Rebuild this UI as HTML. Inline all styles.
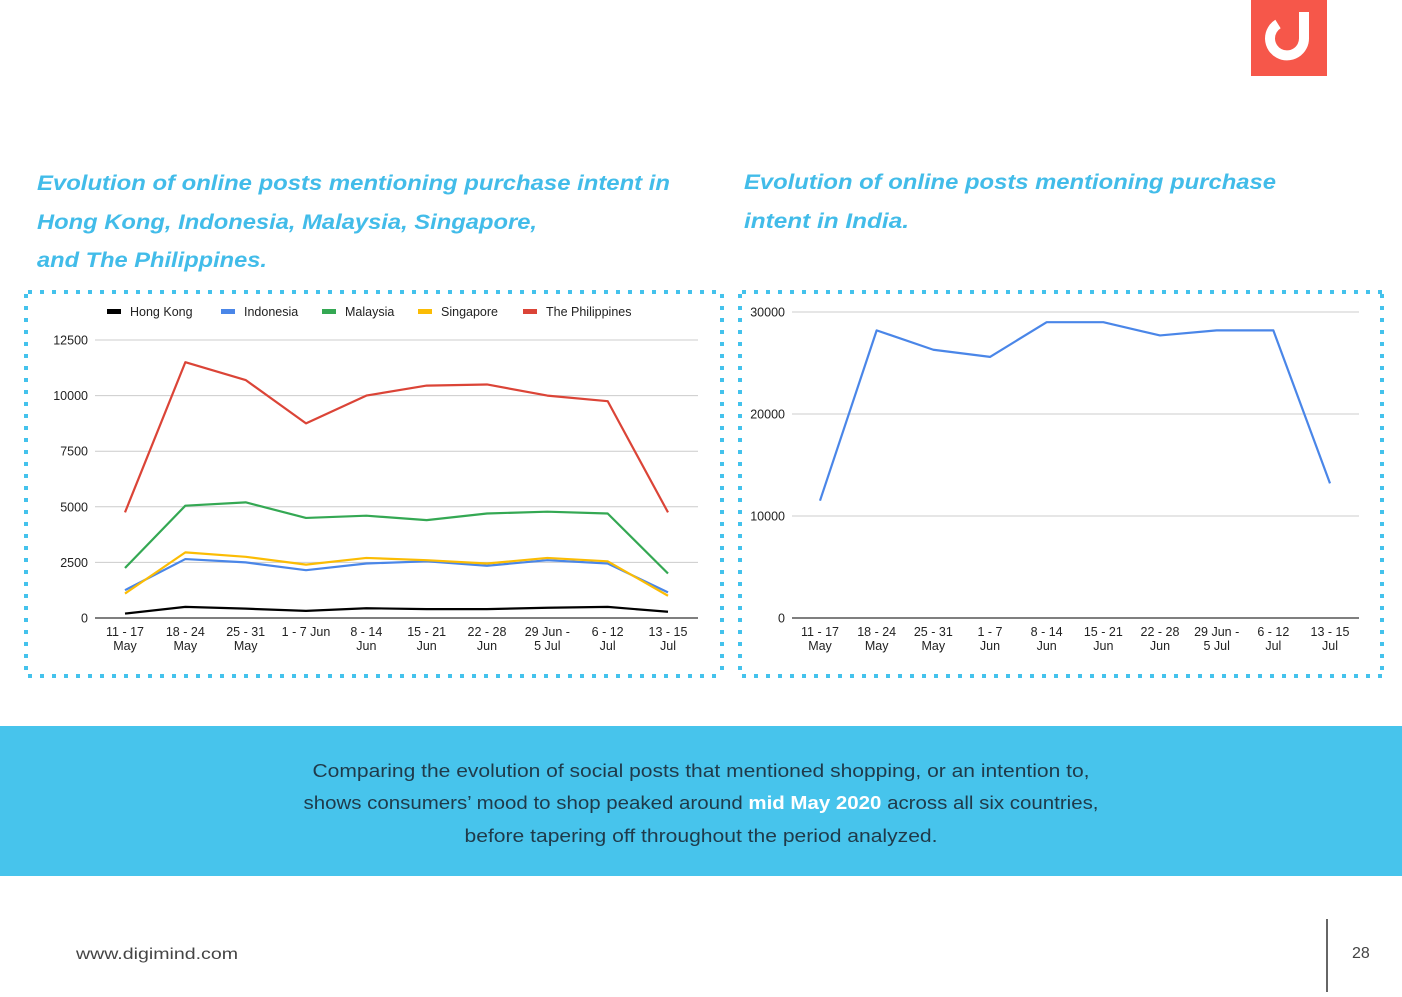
<!DOCTYPE html>
<html><head><meta charset="utf-8">
<style>
html,body{margin:0;padding:0;background:#fff;}
body{width:1402px;height:992px;position:relative;overflow:hidden;font-family:"Liberation Sans",sans-serif;}
svg text{font-family:"Liberation Sans",sans-serif;}
</style></head>
<body>
<svg id="page" width="1402" height="992" viewBox="0 0 1402 992" xmlns="http://www.w3.org/2000/svg">
  <g>
    <rect x="1251" y="0" width="76" height="76" fill="#f6574a"/>
    <path d="M1278 24 A17 17 0 1 0 1304 38 L1304 12" fill="none" stroke="#fff" stroke-width="10"/>
  </g>
  <g fill="#42bce9" font-weight="bold" font-style="italic" font-size="21">
    <text x="37" y="190" textLength="633" lengthAdjust="spacingAndGlyphs">Evolution of online posts mentioning purchase intent in</text>
    <text x="37" y="229" textLength="500" lengthAdjust="spacingAndGlyphs">Hong Kong, Indonesia, Malaysia, Singapore,</text>
    <text x="37" y="267" textLength="230" lengthAdjust="spacingAndGlyphs">and The Philippines.</text>
  </g>
  <g fill="#42bce9" font-weight="bold" font-style="italic" font-size="21">
    <text x="744" y="189" textLength="532" lengthAdjust="spacingAndGlyphs">Evolution of online posts mentioning purchase</text>
    <text x="744" y="228" textLength="165" lengthAdjust="spacingAndGlyphs">intent in India.</text>
  </g>
  <g stroke="#44c2ec" stroke-width="4" stroke-dasharray="4 8" fill="none">
    <line x1="28" y1="292" x2="720" y2="292"/>
    <line x1="28" y1="676" x2="720" y2="676"/>
    <line x1="26" y1="294" x2="26" y2="676"/>
    <line x1="722" y1="294" x2="722" y2="676"/>
    <line x1="740" y1="294" x2="740" y2="676"/>
    <line x1="742" y1="292" x2="1382" y2="292"/>
    <line x1="742" y1="676" x2="1382" y2="676"/>
    <line x1="1382" y1="294" x2="1382" y2="676"/>
  </g>
  <g id="left-chart"></g>
  <g id="right-chart"></g>
  <rect x="0" y="726" width="1402" height="150" fill="#47c4ec"/>
  <g font-size="18" fill="#1f3a4a" text-anchor="middle">
    <text x="701" y="777" textLength="777" lengthAdjust="spacingAndGlyphs">Comparing the evolution of social posts that mentioned shopping, or an intention to,</text>
    <text x="701" y="809" textLength="795" lengthAdjust="spacingAndGlyphs">shows consumers’ mood to shop peaked around <tspan fill="#fff" font-weight="bold">mid May 2020</tspan> across all six countries,</text>
    <text x="701" y="842" textLength="473" lengthAdjust="spacingAndGlyphs">before tapering off throughout the period analyzed.</text>
  </g>
  <text x="76" y="959" font-size="16" fill="#444" textLength="162" lengthAdjust="spacingAndGlyphs">www.digimind.com</text>
  <line x1="1327" y1="919" x2="1327" y2="992" stroke="#333" stroke-width="1.5"/>
  <text x="1352" y="958" font-size="16" fill="#444">28</text>
</svg>
<script>
const categories = [["11 - 17","May"],["18 - 24","May"],["25 - 31","May"],["1 - 7 Jun",""],["8 - 14","Jun"],["15 - 21","Jun"],["22 - 28","Jun"],["29 Jun -","5 Jul"],["6 - 12","Jul"],["13 - 15","Jul"]];
const categoriesIndia = [["11 - 17","May"],["18 - 24","May"],["25 - 31","May"],["1 - 7","Jun"],["8 - 14","Jun"],["15 - 21","Jun"],["22 - 28","Jun"],["29 Jun -","5 Jul"],["6 - 12","Jul"],["13 - 15","Jul"]];
const hongKong = [200, 500, 420, 320, 440, 400, 400, 460, 500, 280];
const indonesia = [1250, 2650, 2500, 2150, 2450, 2550, 2350, 2600, 2450, 1150];
const malaysia = [2250, 5050, 5200, 4500, 4600, 4400, 4700, 4780, 4700, 2000];
const singapore = [1100, 2950, 2750, 2400, 2700, 2600, 2450, 2700, 2550, 1000];
const philippines = [4750, 11500, 10700, 8750, 10000, 10450, 10500, 10000, 9750, 4750];
const india = [11500, 28200, 26300, 25600, 29000, 29000, 27700, 28200, 28200, 13200];
const leftTicks = [0, 2500, 5000, 7500, 10000, 12500];
const rightTicks = [0, 10000, 20000, 30000];
const seriesNames = ["Hong Kong","Indonesia","Malaysia","Singapore","The Philippines"];

const NS = "http://www.w3.org/2000/svg";
function mk(tag, attrs, parent){const e=document.createElementNS(NS,tag);for(const k in attrs)e.setAttribute(k,attrs[k]);parent.appendChild(e);return e;}

function drawChart(g, cfg){
  const y = v => cfg.y0 - (v/cfg.ymax)*(cfg.y0-cfg.ytop);
  const x = i => cfg.x0 + i*(cfg.x1-cfg.x0)/(cfg.cats.length-1);
  cfg.ticks.forEach(t=>{
    const ln = mk("line",{x1:cfg.gx0,x2:cfg.gx1,y1:y(t),y2:y(t),stroke:t===0?"#333":"#ccc","stroke-width":t===0?1.2:1},g);
    
    
    const tx = mk("text",{x:cfg.lx,y:y(t)+4.5,"font-size":12.5,fill:"#222","text-anchor":cfg.anchor},g);
    tx.textContent = t;
    
    
  });
  cfg.cats.forEach((c,i)=>{
    const tx = mk("text",{x:x(i),y:636,"font-size":12.5,fill:"#222","text-anchor":"middle"},g);
    
    
    const a = mk("tspan",{x:x(i),dy:0},tx); a.textContent=c[0];
    const b = mk("tspan",{x:x(i),dy:14},tx); b.textContent=c[1];
  });
  cfg.series.forEach(s=>{
    const pts = s.data.map((v,i)=>x(i)+","+y(v)).join(" ");
    const pl = mk("polyline",{points:pts,fill:"none",stroke:s.color,"stroke-width":2.2,"stroke-linejoin":"round"},g);
    
    
  });
}

const lg = document.getElementById("left-chart");
drawChart(lg,{x0:125,x1:668,y0:618,ytop:340,ymax:12500,gx0:95,gx1:698,lx:88,anchor:"end",ticks:leftTicks,cats:categories,
  series:[{key:"hong-kong",data:hongKong,color:"#000"},{key:"indonesia",data:indonesia,color:"#4a86e8"},{key:"malaysia",data:malaysia,color:"#34a853"},{key:"singapore",data:singapore,color:"#fbbc04"},{key:"philippines",data:philippines,color:"#db4437"}]});
const rg = document.getElementById("right-chart");
drawChart(rg,{x0:820,x1:1330,y0:618,ytop:312,ymax:30000,gx0:792,gx1:1359,lx:785,anchor:"end",ticks:rightTicks,cats:categoriesIndia,
  series:[{key:"india",data:india,color:"#4a86e8"}]});

const legColors = ["#000","#4a86e8","#34a853","#fbbc04","#db4437"];
const legX = [107,221,322,418,523];
seriesNames.forEach((n,i)=>{
  const r = mk("rect",{x:legX[i],y:309,width:14,height:5,fill:legColors[i]},lg);
  
  
  const t = mk("text",{x:legX[i]+23,y:316,"font-size":12.5,fill:"#222"},lg);
  t.textContent = n;
  
  
});
</script>
</body></html>
